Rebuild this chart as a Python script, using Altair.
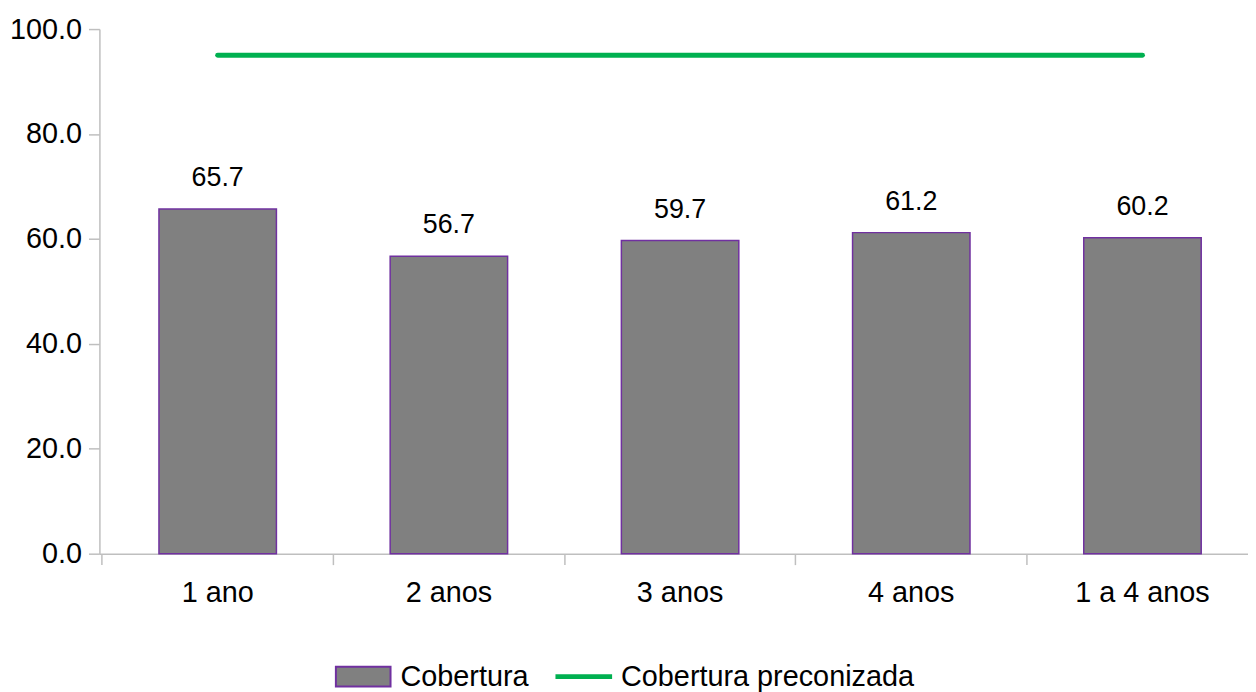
import altair as alt
import pandas as pd

categories = ["1 ano", "2 anos", "3 anos", "4 anos", "1 a 4 anos"]
cobertura = [65.7, 56.7, 59.7, 61.2, 60.2]
preconizada = [95, 95, 95, 95, 95]
series = ["Cobertura", "Cobertura preconizada"]
y_ticks = [0, 20, 40, 60, 80, 100]

df = pd.DataFrame({"cat": categories, "cob": cobertura, "meta": preconizada})

FONT = "Liberation Sans"
AXFS = 29
LBFS = 27

x_enc = alt.X(
    "cat:N",
    sort=categories,
    scale=alt.Scale(paddingInner=0.492, paddingOuter=0.23, align=0.56),
    axis=alt.Axis(
        title=None, labelAngle=0, bandPosition=-0.4844, labelFontSize=AXFS, labelFont=FONT,
        labelColor="#000000", domainColor="#bfbfbf", tickColor="#bfbfbf",
        tickSize=11, domainWidth=1.5, tickWidth=1.5, labelPadding=14, grid=False,
    ),
)

y_scale = alt.Scale(domain=[0, 100], nice=False)
y_axis = alt.Axis(
    title=None, values=y_ticks, format=".1f", labelFontSize=AXFS, labelFont=FONT,
    labelColor="#000000", domainColor="#bfbfbf", tickColor="#bfbfbf", tickSize=11,
    domainWidth=1.5, tickWidth=1.5, labelPadding=7, grid=False,
)

is_cob = "datum.value === 'Cobertura'"
legend = alt.Legend(
    title=None, orient="none", legendX=237, legendY=623, direction="horizontal",
    labelFontSize=29, labelFont=FONT, labelColor="#000000", labelLimit=500,
    symbolSize=3025, labelOffset=9, columnPadding=24,
    symbolType=alt.ExprRef(
        f"{is_cob} ? 'M-1,-0.36L1,-0.36L1,0.36L-1,0.36Z' : 'M-1,-0.05L1,-0.05L1,0.05L-1,0.05Z'"
    ),
    symbolStrokeColor=alt.ExprRef(f"{is_cob} ? '#7030a0' : '#00b050'"),
    symbolStrokeWidth=2,
    symbolOpacity=1,
)
fill_scale = alt.Scale(domain=series, range=["#808080", "#00b050"])

base = alt.Chart(df)

bars = base.transform_calculate(serie=f"'{series[0]}'").mark_bar(
    stroke="#7030a0", strokeWidth=1.5
).encode(
    x=x_enc,
    y=alt.Y("cob:Q", scale=y_scale, axis=y_axis),
    fill=alt.Fill("serie:N", scale=fill_scale, legend=legend),
)

line = base.transform_calculate(serie=f"'{series[1]}'").mark_line(
    stroke="#00b050", strokeWidth=5, strokeCap="round"
).encode(
    x=alt.X("cat:N", sort=categories),
    y=alt.Y("meta:Q"),
    fill=alt.Fill("serie:N", scale=fill_scale, legend=legend),
)

labels = base.mark_text(dy=-31, fontSize=LBFS, font=FONT, color="#000000").encode(
    x=alt.X("cat:N", sort=categories),
    y=alt.Y("cob:Q"),
    text=alt.Text("cob:Q", format=".1f"),
)

chart = (
    alt.layer(bars, labels, line)
    .properties(
        width=1156, height=528,
        autosize=alt.AutoSizeParams(type="none"),
        padding={"left": 92, "top": 19, "right": 0, "bottom": 137},
    )
    .configure_view(stroke=None)
)

chart.save("out.html", embed_options={"renderer": "svg", "actions": False})
